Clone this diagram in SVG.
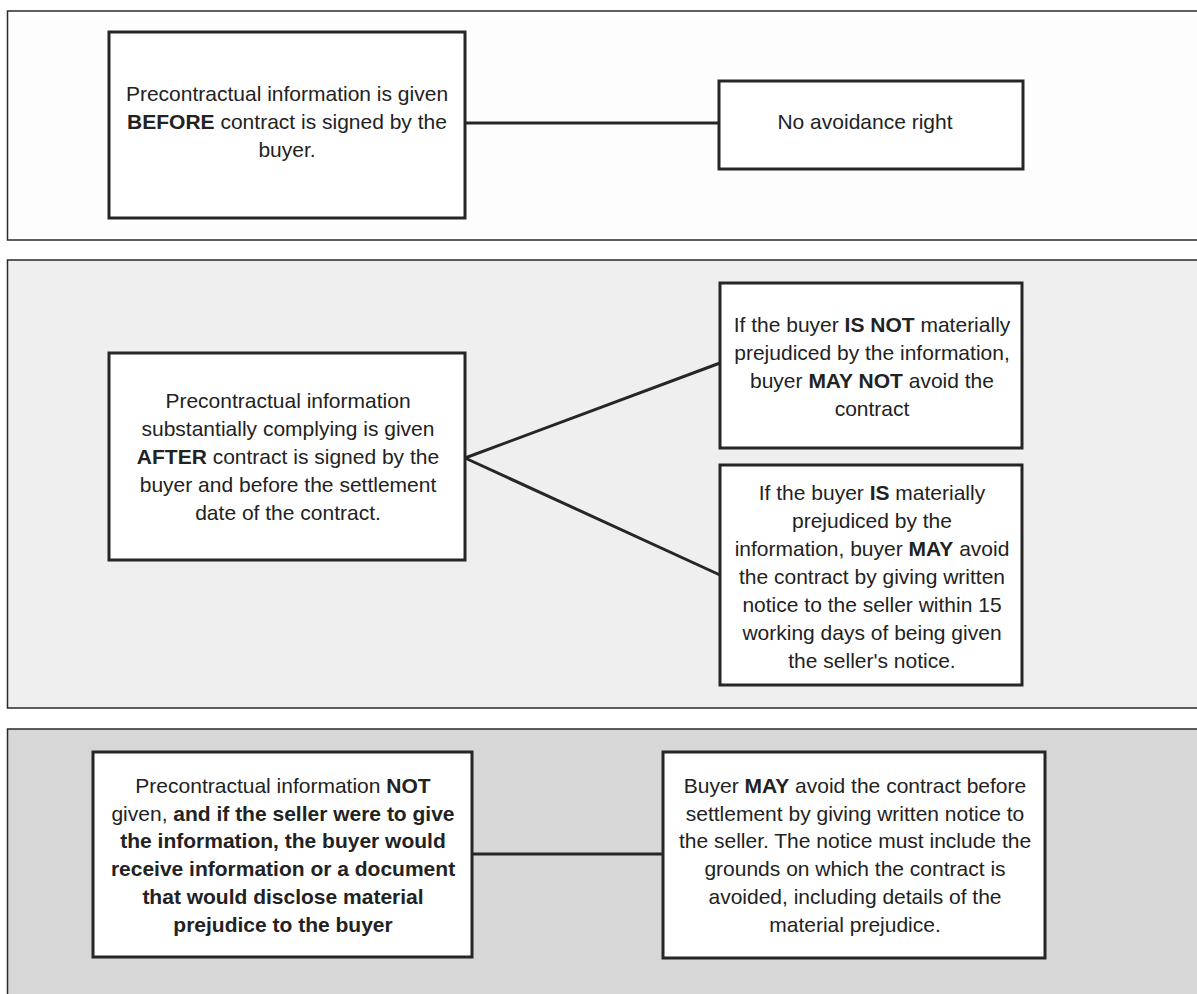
<svg xmlns="http://www.w3.org/2000/svg" width="1197" height="994" viewBox="0 0 1197 994">
<style>
  .panel { stroke: #2a2a2a; stroke-width: 1.5; }
  .box { fill: #ffffff; stroke: #262626; stroke-width: 3; }
  .conn { stroke: #262626; stroke-width: 3; fill: none; }
  text { font-family: "Liberation Sans", Arial, sans-serif; font-size: 21px; fill: #222222; text-anchor: middle; }
  .b { font-weight: bold; }
</style>
<rect x="0" y="0" width="1197" height="994" fill="#ffffff"/>
<g id="panels">
  <rect class="panel" x="7.5" y="11" width="1200" height="229" fill="#fdfdfd"/>
  <rect class="panel" x="7.5" y="260" width="1200" height="448" fill="#efefef"/>
  <rect class="panel" x="7.5" y="729" width="1200" height="300" fill="#d7d7d7"/>
</g>
<g id="connectors">
  <line class="conn" x1="465" y1="123" x2="719" y2="123"/>
  <line class="conn" x1="465" y1="458" x2="720" y2="363"/>
  <line class="conn" x1="465" y1="458" x2="720" y2="575"/>
  <line class="conn" x1="472" y1="854" x2="663" y2="854"/>
</g>
<g id="node-before">
  <rect class="box" x="109" y="32" width="356" height="186"/>
  <text x="287" y="101">Precontractual information is given</text>
  <text x="287" y="129"><tspan class="b">BEFORE</tspan> contract is signed by the</text>
  <text x="287" y="157">buyer.</text>
</g>
<g id="node-no-avoidance">
  <rect class="box" x="719" y="81" width="304" height="88"/>
  <text x="865" y="129">No avoidance right</text>
</g>
<g id="node-after">
  <rect class="box" x="109" y="353" width="356" height="207"/>
  <text x="288" y="408">Precontractual information</text>
  <text x="288" y="436">substantially complying is given</text>
  <text x="288" y="464"><tspan class="b">AFTER</tspan> contract is signed by the</text>
  <text x="288" y="492">buyer and before the settlement</text>
  <text x="288" y="520">date of the contract.</text>
</g>
<g id="node-not-prejudiced">
  <rect class="box" x="720" y="283" width="302" height="165"/>
  <text x="872" y="332">If the buyer <tspan class="b">IS NOT</tspan> materially</text>
  <text x="872" y="360">prejudiced by the information,</text>
  <text x="872" y="388">buyer <tspan class="b">MAY NOT</tspan> avoid the</text>
  <text x="872" y="416">contract</text>
</g>
<g id="node-prejudiced">
  <rect class="box" x="720" y="465" width="302" height="220"/>
  <text x="872" y="500">If the buyer <tspan class="b">IS</tspan> materially</text>
  <text x="872" y="528">prejudiced by the</text>
  <text x="872" y="556">information, buyer <tspan class="b">MAY</tspan> avoid</text>
  <text x="872" y="584">the contract by giving written</text>
  <text x="872" y="612">notice to the seller within 15</text>
  <text x="872" y="640">working days of being given</text>
  <text x="872" y="668">the seller's notice.</text>
</g>
<g id="node-not-given">
  <rect class="box" x="93" y="752" width="379" height="205"/>
  <text x="283" y="793">Precontractual information <tspan class="b">NOT</tspan></text>
  <text x="283" y="821">given, <tspan class="b">and if the seller were to give</tspan></text>
  <text x="283" y="848" class="b">the information, the buyer would</text>
  <text x="283" y="876" class="b">receive information or a document</text>
  <text x="283" y="904" class="b">that would disclose material</text>
  <text x="283" y="932" class="b">prejudice to the buyer</text>
</g>
<g id="node-may-avoid">
  <rect class="box" x="663" y="752" width="382" height="206"/>
  <text x="855" y="793">Buyer <tspan class="b">MAY</tspan> avoid the contract before</text>
  <text x="855" y="821">settlement by giving written notice to</text>
  <text x="855" y="848">the seller. The notice must include the</text>
  <text x="855" y="876">grounds on which the contract is</text>
  <text x="855" y="904">avoided, including details of the</text>
  <text x="855" y="932">material prejudice.</text>
</g>
</svg>
